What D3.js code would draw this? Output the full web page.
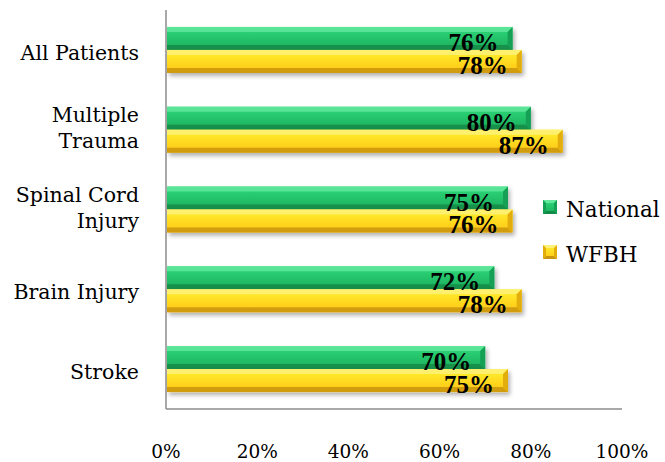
<!DOCTYPE html>
<html><head><meta charset="utf-8">
<script src="https://cdn.jsdelivr.net/npm/d3@7"></script>
<style>body{margin:0;background:#fff;}svg{display:block;}</style>
</head><body>
<svg id="c" width="665" height="462"></svg>
<script>
const categories = [["All Patients"], ["Multiple","Trauma"], ["Spinal Cord","Injury"], ["Brain Injury"], ["Stroke"]];
const seriesNames = ["National", "WFBH"];
const national = [0.76, 0.80, 0.75, 0.72, 0.70];
const wfbh = [0.78, 0.87, 0.76, 0.78, 0.75];
const tickValues = [0, 0.2, 0.4, 0.6, 0.8, 1.0];

const svg = d3.select("#c");
const catKeys = categories.map(c => c.join(" "));
const x = d3.scaleLinear().domain([0, 1]).range([166, 622]);
const y = d3.scaleBand().domain(catKeys).range([10, 409]).paddingInner(0.424).paddingOuter(0.212);
const ys = d3.scaleBand().domain(seriesNames).range([0, y.bandwidth()]);

const styles = {
  National: {top:"#62e89c", f1:"#2fd97a", f2:"#1aae5c", bottom:"#128a48", right:"#14a055"},
  WFBH: {top:"#fff07a", f1:"#fff22e", f2:"#ffc414", bottom:"#c9940f", right:"#e3ad0c"}
};
const defs = svg.append("defs");
seriesNames.forEach(s => {
  const g = defs.append("linearGradient").attr("id","g"+s).attr("x1",0).attr("x2",0).attr("y1",0).attr("y2",1);
  g.append("stop").attr("offset","0%").attr("stop-color",styles[s].f1);
  g.append("stop").attr("offset","100%").attr("stop-color",styles[s].f2);
});
const f = defs.append("filter").attr("id","sh").attr("x","-5%").attr("y","-30%").attr("width","115%").attr("height","180%");
f.append("feDropShadow").attr("dx",2).attr("dy",3).attr("stdDeviation",2).attr("flood-color","#000").attr("flood-opacity",0.3);

// axes lines
svg.append("line").attr("x1",x(0)).attr("x2",x(0)).attr("y1",10).attr("y2",409).attr("stroke","#8c8c8c").attr("stroke-width",1.5);
svg.append("line").attr("x1",x(0)).attr("x2",x(1)).attr("y1",409).attr("y2",409).attr("stroke","#8c8c8c").attr("stroke-width",1.5);

const data = [];
catKeys.forEach((k,i) => {
  data.push({cat:k, s:"National", v:national[i]});
  data.push({cat:k, s:"WFBH", v:wfbh[i]});
});

function drawBar(g, w, h, st, id) {
  const b = 5;
  g.append("rect").attr("width",w).attr("height",h).attr("fill","url(#g"+id+")");
  g.append("polygon").attr("points",`0,0 ${w},0 ${w-b},${b} 0,${b}`).attr("fill",st.top).attr("opacity",0.85);
  g.append("polygon").attr("points",`0,${h} ${w},${h} ${w-b},${h-b} 0,${h-b}`).attr("fill",st.bottom).attr("opacity",0.85);
  g.append("polygon").attr("points",`${w},0 ${w},${h} ${w-b},${h-b} ${w-b},${b}`).attr("fill",st.right);
}

["National","WFBH"].forEach(s => {
  data.filter(d => d.s === s).forEach(d => {
    const g = svg.append("g").attr("transform",`translate(${x(0)+1},${y(d.cat)+ys(d.s)})`).attr("filter","url(#sh)");
    drawBar(g, x(d.v)-x(0)-1, ys.bandwidth(), styles[s], s);
  });
});

// value labels
svg.selectAll("text.val").data(data).enter().append("text")
  .attr("class","val")
  .attr("x", d => x(d.v) - 14)
  .attr("y", d => y(d.cat) + ys(d.s) + ys.bandwidth() + 1)
  .attr("text-anchor","end")
  .attr("font-family","'Liberation Serif', serif")
  .attr("font-weight","bold")
  .attr("font-size",25)
  .attr("fill","#000")
  .text(d => Math.round(d.v*100) + "%");

// category labels
categories.forEach((c,i) => {
  const cy = y(catKeys[i]) + y.bandwidth()/2;
  const t = svg.append("text").attr("text-anchor","end").attr("font-family","'DejaVu Serif', serif")
    .attr("font-size",20.5).attr("fill","#000");
  if (c.length === 1) {
    t.append("tspan").attr("x",139).attr("y",cy+10).text(c[0]);
  } else {
    t.append("tspan").attr("x",139).attr("y",cy-7.7).text(c[0]);
    t.append("tspan").attr("x",139).attr("y",cy+18.3).text(c[1]);
  }
});

// x tick labels
svg.selectAll("text.tick").data(tickValues).enter().append("text")
  .attr("x", d => x(d)).attr("y", 458)
  .attr("text-anchor","middle")
  .attr("font-family","'DejaVu Serif', serif")
  .attr("font-size",18.5).attr("fill","#000")
  .text(d => Math.round(d*100) + "%");

// legend
seriesNames.forEach((s,i) => {
  const ly = 207 + i*45;
  const g = svg.append("g").attr("transform",`translate(543,${ly-7})`);
  const st = styles[s];
  const w = 14, h = 14, b = 3;
  g.append("rect").attr("width",w).attr("height",h).attr("fill","url(#g"+s+")");
  g.append("polygon").attr("points",`0,0 ${w},0 ${w-b},${b} ${b},${b}`).attr("fill",st.top);
  g.append("polygon").attr("points",`0,${h} ${w},${h} ${w-b},${h-b} ${b},${h-b}`).attr("fill",st.bottom);
  g.append("polygon").attr("points",`${w},0 ${w},${h} ${w-b},${h-b} ${w-b},${b}`).attr("fill",st.right);
  g.append("polygon").attr("points",`0,0 0,${h} ${b},${h-b} ${b},${b}`).attr("fill",st.right);
  svg.append("text").attr("x",566).attr("y",ly+10).attr("font-family","'DejaVu Serif', serif")
    .attr("font-size",21.5).attr("fill","#000").text(s);
});
</script>
</body></html>
